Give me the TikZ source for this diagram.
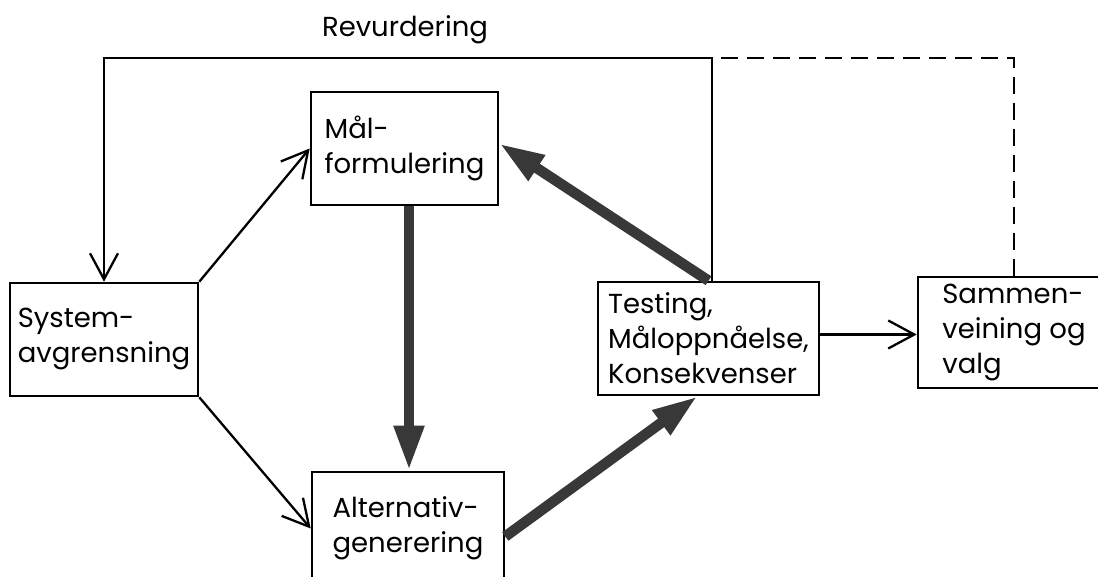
\documentclass[tikz,border=0pt]{standalone}
\usepackage{fontspec}
\setmainfont{Poppins}
\usetikzlibrary{arrows.meta,calc}
\begin{document}
\begin{tikzpicture}[x=1pt,y=-1pt,
  box/.style={draw=black, line width=2.6pt, rectangle, inner sep=0pt, align=left,
    font=\fontsize{27.5}{35}\selectfont, anchor=center},
  thinarrow/.style={draw=black, line width=2.3pt,
    -{Straight Barb[length=26pt,width=28pt,line width=2.3pt]}},
  thickarrow/.style={draw=black!78, line width=10.5pt,
    -{Triangle[length=45pt,width=28pt]}},
  loopline/.style={draw=black, line width=2.3pt},
  dashline/.style={draw=black, line width=2.6pt, dash pattern=on 17pt off 9pt, dash phase=17pt},
  revlabel/.style={font=\fontsize{27.5}{35}\selectfont, inner sep=0pt}]
\clip (0,0) rectangle (1098,577);
\fill[white] (0,0) rectangle (1098,577);

\node[box, minimum width=187pt, minimum height=113pt] (mal) at (404.5,148.5) {Mål-\\formulering};
\node[box, minimum width=188pt, minimum height=113pt] (sys) at (104,339.5) {System-\\avgrensning};
\node[box, minimum width=192pt, minimum height=113pt] (alt) at (408,528.5) {Alternativ-\\generering};
\node[box, minimum width=221pt, minimum height=113pt] (test) at (708.5,338.5) {Testing,\\Måloppnåelse,\\Konsekvenser};
\node[box, minimum width=192pt, minimum height=111pt] (sam) at (1014,332.5) {Sammen-\\veining og\\valg};

\node[revlabel] (rev) at (405,30) {Revurdering};

\coordinate (tr) at (712,58);
\coordinate (tl) at (104,58);

% thin arrows
\draw[thinarrow] (sys.north east) -- (mal.west);
\draw[thinarrow] (sys.south east) -- (alt.west);
\draw[thinarrow] ($(test.east)+(0,-4)$) -- ($(sam.west)+(0,2)$);
\draw[loopline, -{Straight Barb[length=26pt,width=28pt,line width=2.3pt]}]
  ($(test.north)+(3.5,0)$) -- (tr) -- (tl) -- (sys.north);
\draw[dashline] (tr) -| (sam.north);

% thick arrows
\draw[thickarrow] ($(mal.south)+(4.5,0)$) -- ($(alt.north)+(1,0)$);
\draw[thickarrow] ($(alt.east)+(0,8)$) -- ($(test.south)+(-11,0)$);
\draw[thickarrow] (test.north) -- ($(mal.east)+(0,-5)$);
\end{tikzpicture}
\end{document}
